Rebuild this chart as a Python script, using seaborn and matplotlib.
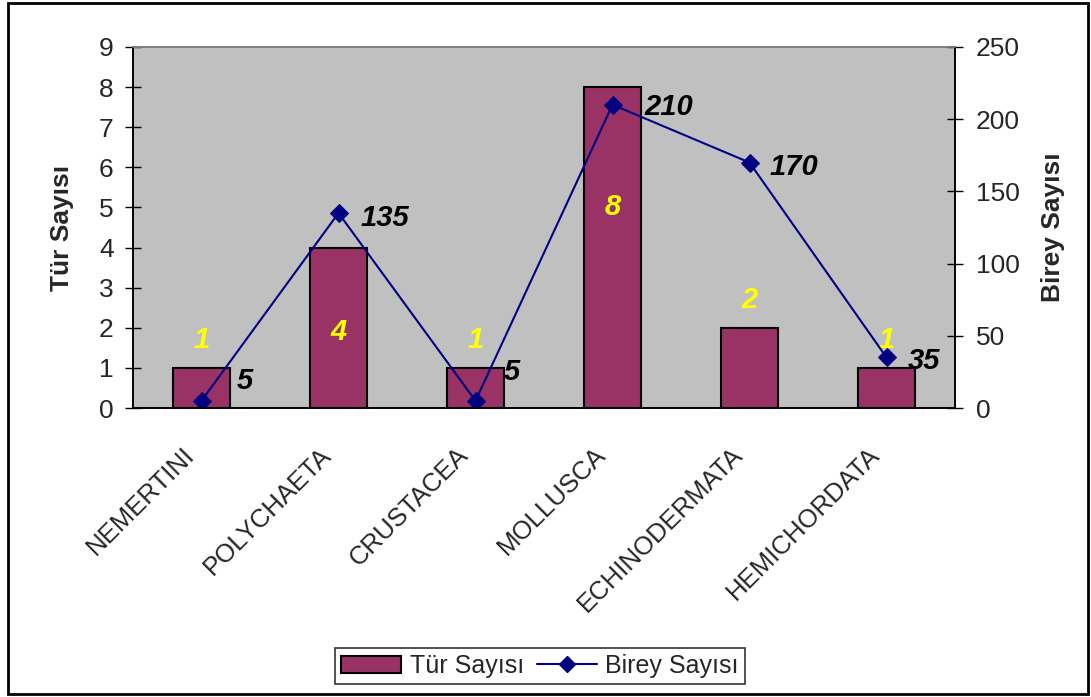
import numpy as np
import pandas as pd
import matplotlib
matplotlib.use("Agg")
import matplotlib.pyplot as plt
import matplotlib.patches as mpatches
import matplotlib.transforms as mtransforms
from matplotlib.lines import Line2D
import seaborn as sns

categories = ["NEMERTINI", "POLYCHAETA", "CRUSTACEA", "MOLLUSCA", "ECHINODERMATA", "HEMICHORDATA"]
tur_sayisi = [1, 4, 1, 8, 2, 1]
birey_sayisi = [5, 135, 5, 210, 170, 35]
left_ticks = list(range(0, 10))
right_ticks = [0, 50, 100, 150, 200, 250]

# label placement (style)
bar_label_y = [1.7, 1.9, 1.7, 5.0, 2.7, 1.7]
line_label_off = [(35, 20), (22, -5), (28, 29), (32, -2), (20, -4), (21, -4)]

sns.set_style("white")
plt.rcParams['font.family'] = ['Liberation Sans', 'DejaVu Sans']

BAR = "#993366"
NAVY = "#000080"

fig = plt.figure(figsize=(10.91, 6.97), dpi=100)
ax = fig.add_axes([133/1091, 1-408/697, 822/1091, 361/697])
ax.set_facecolor("#C0C0C0")

df = pd.DataFrame({"cat": categories, "tur": tur_sayisi, "birey": birey_sayisi})
sns.barplot(data=df, x="cat", y="tur", color=BAR, saturation=1, width=0.41,
            edgecolor="black", linewidth=1.5, ax=ax)
ax.set_ylim(0, 9)
ax.set_xlim(-0.5, len(categories) - 0.5)
ax.set_yticks(left_ticks)
ax.set_ylabel("Tür Sayısı", fontsize=19, fontweight="bold", labelpad=18)
ax.set_xlabel("")
ax.set_xticks(range(len(categories)))
ax.set_xticklabels(categories, rotation=45, ha="right", rotation_mode="anchor", fontsize=18.5)
ax.tick_params(axis="x", length=0, pad=25)
shift = mtransforms.ScaledTranslation(-19/100, 0, fig.dpi_scale_trans)
for lbl in ax.get_xticklabels():
    lbl.set_transform(lbl.get_transform() + shift)
ax.set_xticks(np.arange(0.5, len(categories) - 0.5, 1), minor=True)
ax.tick_params(axis="x", which="minor", direction="inout", length=12, width=1, color="black")
ax.tick_params(axis="y", direction="inout", length=12, width=1, color="black", labelsize=19, pad=8)

for i, v in enumerate(tur_sayisi):
    ax.text(i, bar_label_y[i], str(v), color="#FFFF00", fontsize=21, fontweight="bold",
            style="italic", ha="center", va="center")

ax2 = ax.twinx()
xpos = np.arange(len(categories))
sns.lineplot(x=xpos, y=birey_sayisi, ax=ax2, color=NAVY, marker="D", markersize=9,
             markeredgecolor=NAVY, linewidth=1.5, legend=False)
ax2.set_ylim(0, 250)
ax2.set_yticks(right_ticks)
ax2.set_ylabel("Birey Sayısı", fontsize=19, fontweight="bold", labelpad=15)
ax2.tick_params(axis="y", direction="inout", length=12, width=1, color="black", labelsize=19, pad=9)
ax.set_xlim(-0.5, len(categories) - 0.5)

for i, v in enumerate(birey_sayisi):
    dx, dy = line_label_off[i]
    ax2.annotate(str(v), (xpos[i], v), xytext=(dx, dy), textcoords="offset pixels",
                 fontsize=21, fontweight="bold", style="italic", color="black",
                 ha="left", va="center")

for a in (ax, ax2):
    for s in ("left", "right", "bottom"):
        a.spines[s].set_color("black")
        a.spines[s].set_linewidth(1.2)
        a.spines[s].set_visible(True)
    a.spines["top"].set_color("#808080")
    a.spines["top"].set_linewidth(1.2)

handles = [mpatches.Patch(facecolor=BAR, edgecolor="black", linewidth=1.5),
           Line2D([0], [0], color=NAVY, marker="D", markersize=8, linewidth=1.5)]
leg = fig.legend(handles, ["Tür Sayısı", "Birey Sayısı"], loc="center",
                 bbox_to_anchor=(540/1091, 1-666/697), ncol=2, fontsize=18,
                 frameon=True, fancybox=False, edgecolor="black", handlelength=2.4,
                 handleheight=0.7, columnspacing=0.5, handletextpad=0.35,
                 borderpad=0.25, borderaxespad=0)
leg.get_frame().set_linewidth(1.2)

border = mpatches.Rectangle((8/1091, 3/697), 1080/1091, 691/697, transform=fig.transFigure,
                            fill=False, edgecolor="black", linewidth=2)
fig.patches.append(border)

fig.savefig("out.png", dpi=100)
